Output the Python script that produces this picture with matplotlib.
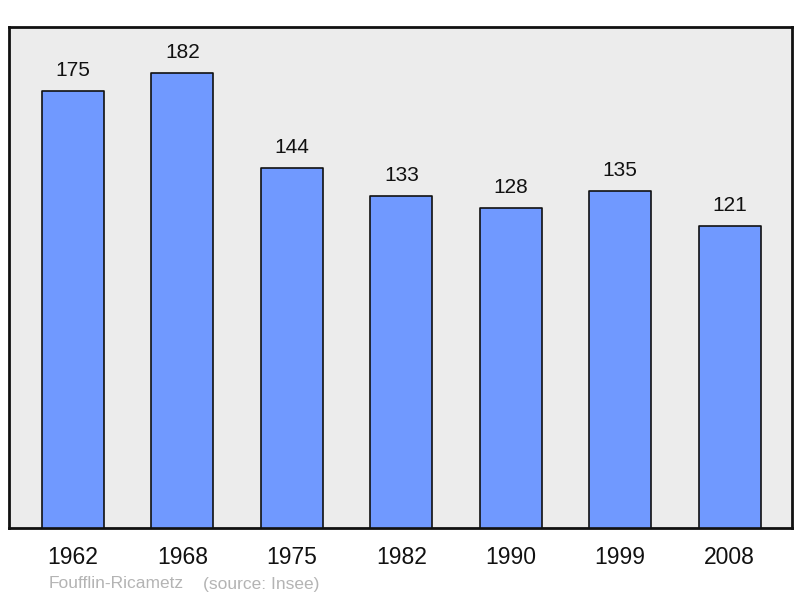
import matplotlib
matplotlib.use("Agg")
import matplotlib.pyplot as plt

years = ["1962", "1968", "1975", "1982", "1990", "1999", "2008"]
population = [175, 182, 144, 133, 128, 135, 121]
commune = "Foufflin-Ricametz"
source = "(source: Insee)"

plt.rcParams['font.family'] = ['Liberation Sans', 'DejaVu Sans']

fig = plt.figure(figsize=(8, 5.98), dpi=100)
ax = fig.add_axes([9/800, (598-528)/598, 783/800, (528-27)/598])
ax.set_facecolor('#ececec')

x = list(range(len(years)))
bars = ax.bar(x, population, width=0.567, color='#7099ff', edgecolor='#111111', linewidth=1.2, zorder=3)
for b in bars:
    b.set_joinstyle('round')

for xi, v in zip(x, population):
    ax.annotate(str(v), (xi, v), xytext=(0, 8), textcoords='offset points',
                ha='center', va='bottom', fontsize=15, color='#111111')

ax.set_xlim(-0.585, 6.57)
ax.set_ylim(0, 200.6)
ax.set_yticks([])
ax.set_xticks(x)
ax.set_xticklabels(years, fontsize=16.5, color='#111111')
ax.tick_params(axis='x', length=0, pad=13)
for s in ax.spines.values():
    s.set_linewidth(2)
    s.set_color('#111111')

fig.text(49/800, 1 - 584/598, commune, fontsize=12.5, color='#b4b4b4', va='center', ha='left')
fig.text(203/800, 1 - 584/598, source, fontsize=12.5, color='#b4b4b4', va='center', ha='left')

fig.savefig('out.png', dpi=100)
